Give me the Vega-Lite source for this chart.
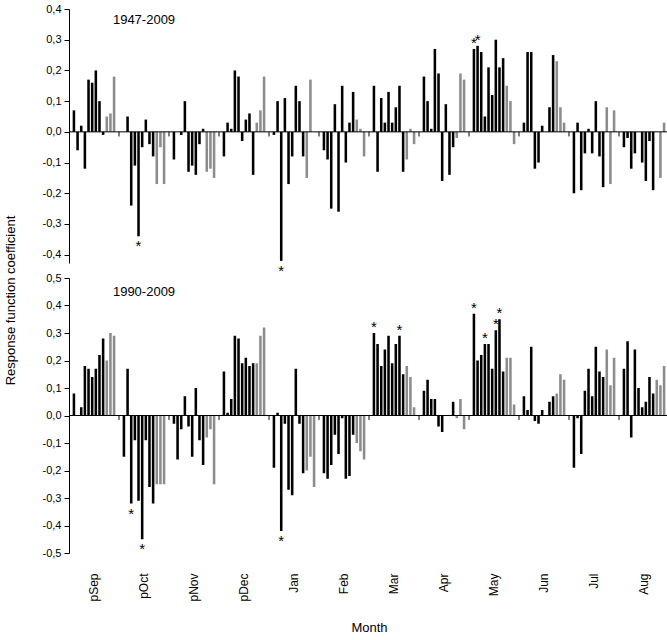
{
  "$schema": "https://vega.github.io/schema/vega-lite/v6.json",
  "padding": {"left": 4, "top": 3, "right": 0, "bottom": 4},
  "bounds": "flush",
  "spacing": 15,
  "config": {
    "view": {"stroke": null},
    "locale": {"number": {"decimal": ",", "thousands": ".", "grouping": [3], "currency": ["", " €"], "minus": "-"}},
    "axis": {"labelColor": "black", "titleColor": "black", "titleFontWeight": "normal", "domainColor": "black", "tickColor": "black", "grid": false, "labelOverlap": false}
  },
  "datasets": {
    "r1947": [
      {"month": "pSep", "var": 1, "kind": "T", "coef": 0.07}, {"month": "pSep", "var": 2, "kind": "T", "coef": -0.06}, {"month": "pSep", "var": 3, "kind": "T", "coef": 0.02}, {"month": "pSep", "var": 4, "kind": "T", "coef": -0.12}, {"month": "pSep", "var": 5, "kind": "T", "coef": 0.17}, {"month": "pSep", "var": 6, "kind": "T", "coef": 0.16}, {"month": "pSep", "var": 7, "kind": "T", "coef": 0.20}, {"month": "pSep", "var": 8, "kind": "T", "coef": 0.10}, {"month": "pSep", "var": 9, "kind": "T", "coef": -0.01}, {"month": "pSep", "var": 10, "kind": "P", "coef": 0.05}, {"month": "pSep", "var": 11, "kind": "P", "coef": 0.06}, {"month": "pSep", "var": 12, "kind": "P", "coef": 0.18},
      {"month": "pOct", "var": 1, "kind": "T", "coef": 0}, {"month": "pOct", "var": 2, "kind": "T", "coef": 0.05}, {"month": "pOct", "var": 3, "kind": "T", "coef": -0.24}, {"month": "pOct", "var": 4, "kind": "T", "coef": -0.11}, {"month": "pOct", "var": 5, "kind": "T", "coef": -0.34, "sig": 1}, {"month": "pOct", "var": 6, "kind": "T", "coef": -0.05}, {"month": "pOct", "var": 7, "kind": "T", "coef": 0.04}, {"month": "pOct", "var": 8, "kind": "T", "coef": -0.04}, {"month": "pOct", "var": 9, "kind": "T", "coef": -0.08}, {"month": "pOct", "var": 10, "kind": "P", "coef": -0.17}, {"month": "pOct", "var": 11, "kind": "P", "coef": -0.05}, {"month": "pOct", "var": 12, "kind": "P", "coef": -0.17},
      {"month": "pNov", "var": 1, "kind": "T", "coef": -0.09}, {"month": "pNov", "var": 2, "kind": "T", "coef": 0}, {"month": "pNov", "var": 3, "kind": "T", "coef": -0.01}, {"month": "pNov", "var": 4, "kind": "T", "coef": 0.10}, {"month": "pNov", "var": 5, "kind": "T", "coef": -0.13}, {"month": "pNov", "var": 6, "kind": "T", "coef": -0.11}, {"month": "pNov", "var": 7, "kind": "T", "coef": -0.14}, {"month": "pNov", "var": 8, "kind": "T", "coef": -0.04}, {"month": "pNov", "var": 9, "kind": "T", "coef": 0.01}, {"month": "pNov", "var": 10, "kind": "P", "coef": -0.13}, {"month": "pNov", "var": 11, "kind": "P", "coef": -0.12}, {"month": "pNov", "var": 12, "kind": "P", "coef": -0.15},
      {"month": "pDec", "var": 1, "kind": "T", "coef": -0.08}, {"month": "pDec", "var": 2, "kind": "T", "coef": 0.03}, {"month": "pDec", "var": 3, "kind": "T", "coef": 0.01}, {"month": "pDec", "var": 4, "kind": "T", "coef": 0.20}, {"month": "pDec", "var": 5, "kind": "T", "coef": 0.18}, {"month": "pDec", "var": 6, "kind": "T", "coef": -0.03}, {"month": "pDec", "var": 7, "kind": "T", "coef": 0.04}, {"month": "pDec", "var": 8, "kind": "T", "coef": 0.06}, {"month": "pDec", "var": 9, "kind": "T", "coef": -0.14}, {"month": "pDec", "var": 10, "kind": "P", "coef": 0.03}, {"month": "pDec", "var": 11, "kind": "P", "coef": 0.07}, {"month": "pDec", "var": 12, "kind": "P", "coef": 0.18},
      {"month": "Jan", "var": 1, "kind": "T", "coef": -0.01}, {"month": "Jan", "var": 2, "kind": "T", "coef": 0.10}, {"month": "Jan", "var": 3, "kind": "T", "coef": -0.42, "sig": 1}, {"month": "Jan", "var": 4, "kind": "T", "coef": 0.11}, {"month": "Jan", "var": 5, "kind": "T", "coef": -0.17}, {"month": "Jan", "var": 6, "kind": "T", "coef": -0.08}, {"month": "Jan", "var": 7, "kind": "T", "coef": 0.15}, {"month": "Jan", "var": 8, "kind": "T", "coef": 0.10}, {"month": "Jan", "var": 9, "kind": "T", "coef": -0.08}, {"month": "Jan", "var": 10, "kind": "P", "coef": -0.15}, {"month": "Jan", "var": 11, "kind": "P", "coef": 0.17}, {"month": "Jan", "var": 12, "kind": "P", "coef": 0},
      {"month": "Feb", "var": 1, "kind": "T", "coef": -0.06}, {"month": "Feb", "var": 2, "kind": "T", "coef": -0.09}, {"month": "Feb", "var": 3, "kind": "T", "coef": -0.25}, {"month": "Feb", "var": 4, "kind": "T", "coef": 0.09}, {"month": "Feb", "var": 5, "kind": "T", "coef": -0.26}, {"month": "Feb", "var": 6, "kind": "T", "coef": 0.15}, {"month": "Feb", "var": 7, "kind": "T", "coef": -0.10}, {"month": "Feb", "var": 8, "kind": "T", "coef": 0.03}, {"month": "Feb", "var": 9, "kind": "T", "coef": 0.13}, {"month": "Feb", "var": 10, "kind": "P", "coef": 0.04}, {"month": "Feb", "var": 11, "kind": "P", "coef": 0.01}, {"month": "Feb", "var": 12, "kind": "P", "coef": -0.08},
      {"month": "Mar", "var": 1, "kind": "T", "coef": 0.15}, {"month": "Mar", "var": 2, "kind": "T", "coef": -0.13}, {"month": "Mar", "var": 3, "kind": "T", "coef": 0.11}, {"month": "Mar", "var": 4, "kind": "T", "coef": 0.03}, {"month": "Mar", "var": 5, "kind": "T", "coef": 0.13}, {"month": "Mar", "var": 6, "kind": "T", "coef": 0.03}, {"month": "Mar", "var": 7, "kind": "T", "coef": 0.08}, {"month": "Mar", "var": 8, "kind": "T", "coef": 0.15}, {"month": "Mar", "var": 9, "kind": "T", "coef": -0.13}, {"month": "Mar", "var": 10, "kind": "P", "coef": -0.09}, {"month": "Mar", "var": 11, "kind": "P", "coef": 0.01}, {"month": "Mar", "var": 12, "kind": "P", "coef": -0.04},
      {"month": "Apr", "var": 1, "kind": "T", "coef": 0.18}, {"month": "Apr", "var": 2, "kind": "T", "coef": 0.10}, {"month": "Apr", "var": 3, "kind": "T", "coef": 0.01}, {"month": "Apr", "var": 4, "kind": "T", "coef": 0.27}, {"month": "Apr", "var": 5, "kind": "T", "coef": 0.19}, {"month": "Apr", "var": 6, "kind": "T", "coef": -0.16}, {"month": "Apr", "var": 7, "kind": "T", "coef": 0.09}, {"month": "Apr", "var": 8, "kind": "T", "coef": -0.14}, {"month": "Apr", "var": 9, "kind": "T", "coef": -0.05}, {"month": "Apr", "var": 10, "kind": "P", "coef": -0.02}, {"month": "Apr", "var": 11, "kind": "P", "coef": 0.19}, {"month": "Apr", "var": 12, "kind": "P", "coef": 0.17},
      {"month": "May", "var": 1, "kind": "T", "coef": 0.27, "sig": 1}, {"month": "May", "var": 2, "kind": "T", "coef": 0.28, "sig": 1}, {"month": "May", "var": 3, "kind": "T", "coef": 0.26}, {"month": "May", "var": 4, "kind": "T", "coef": 0.05}, {"month": "May", "var": 5, "kind": "T", "coef": 0.21}, {"month": "May", "var": 6, "kind": "T", "coef": 0.12}, {"month": "May", "var": 7, "kind": "T", "coef": 0.30}, {"month": "May", "var": 8, "kind": "T", "coef": 0.21}, {"month": "May", "var": 9, "kind": "T", "coef": 0.24}, {"month": "May", "var": 10, "kind": "P", "coef": 0.15}, {"month": "May", "var": 11, "kind": "P", "coef": 0.10}, {"month": "May", "var": 12, "kind": "P", "coef": -0.04},
      {"month": "Jun", "var": 1, "kind": "T", "coef": 0.03}, {"month": "Jun", "var": 2, "kind": "T", "coef": 0.26}, {"month": "Jun", "var": 3, "kind": "T", "coef": 0.26}, {"month": "Jun", "var": 4, "kind": "T", "coef": -0.12}, {"month": "Jun", "var": 5, "kind": "T", "coef": -0.10}, {"month": "Jun", "var": 6, "kind": "T", "coef": 0.02}, {"month": "Jun", "var": 7, "kind": "T", "coef": 0}, {"month": "Jun", "var": 8, "kind": "T", "coef": 0.08}, {"month": "Jun", "var": 9, "kind": "T", "coef": 0.25}, {"month": "Jun", "var": 10, "kind": "P", "coef": 0.23}, {"month": "Jun", "var": 11, "kind": "P", "coef": 0.08}, {"month": "Jun", "var": 12, "kind": "P", "coef": 0.03},
      {"month": "Jul", "var": 1, "kind": "T", "coef": -0.20}, {"month": "Jul", "var": 2, "kind": "T", "coef": 0.03}, {"month": "Jul", "var": 3, "kind": "T", "coef": -0.19}, {"month": "Jul", "var": 4, "kind": "T", "coef": -0.07}, {"month": "Jul", "var": 5, "kind": "T", "coef": 0.01}, {"month": "Jul", "var": 6, "kind": "T", "coef": -0.07}, {"month": "Jul", "var": 7, "kind": "T", "coef": 0.10}, {"month": "Jul", "var": 8, "kind": "T", "coef": -0.08}, {"month": "Jul", "var": 9, "kind": "T", "coef": -0.18}, {"month": "Jul", "var": 10, "kind": "P", "coef": 0.08}, {"month": "Jul", "var": 11, "kind": "P", "coef": -0.17}, {"month": "Jul", "var": 12, "kind": "P", "coef": 0.07},
      {"month": "Aug", "var": 1, "kind": "T", "coef": -0.05}, {"month": "Aug", "var": 2, "kind": "T", "coef": -0.02}, {"month": "Aug", "var": 3, "kind": "T", "coef": -0.12}, {"month": "Aug", "var": 4, "kind": "T", "coef": -0.07}, {"month": "Aug", "var": 5, "kind": "T", "coef": 0}, {"month": "Aug", "var": 6, "kind": "T", "coef": -0.10}, {"month": "Aug", "var": 7, "kind": "T", "coef": -0.16}, {"month": "Aug", "var": 8, "kind": "T", "coef": -0.03}, {"month": "Aug", "var": 9, "kind": "T", "coef": -0.19}, {"month": "Aug", "var": 10, "kind": "P", "coef": 0}, {"month": "Aug", "var": 11, "kind": "P", "coef": -0.15}, {"month": "Aug", "var": 12, "kind": "P", "coef": 0.03}
    ],
    "r1990": [
      {"month": "pSep", "var": 1, "kind": "T", "coef": 0.08}, {"month": "pSep", "var": 2, "kind": "T", "coef": 0}, {"month": "pSep", "var": 3, "kind": "T", "coef": 0.03}, {"month": "pSep", "var": 4, "kind": "T", "coef": 0.18}, {"month": "pSep", "var": 5, "kind": "T", "coef": 0.17}, {"month": "pSep", "var": 6, "kind": "T", "coef": 0.14}, {"month": "pSep", "var": 7, "kind": "T", "coef": 0.17}, {"month": "pSep", "var": 8, "kind": "T", "coef": 0.22}, {"month": "pSep", "var": 9, "kind": "T", "coef": 0.28}, {"month": "pSep", "var": 10, "kind": "P", "coef": 0.20}, {"month": "pSep", "var": 11, "kind": "P", "coef": 0.30}, {"month": "pSep", "var": 12, "kind": "P", "coef": 0.29},
      {"month": "pOct", "var": 1, "kind": "T", "coef": -0.15}, {"month": "pOct", "var": 2, "kind": "T", "coef": 0.17}, {"month": "pOct", "var": 3, "kind": "T", "coef": -0.32, "sig": 1}, {"month": "pOct", "var": 4, "kind": "T", "coef": -0.09}, {"month": "pOct", "var": 5, "kind": "T", "coef": -0.31}, {"month": "pOct", "var": 6, "kind": "T", "coef": -0.45, "sig": 1}, {"month": "pOct", "var": 7, "kind": "T", "coef": -0.09}, {"month": "pOct", "var": 8, "kind": "T", "coef": -0.26}, {"month": "pOct", "var": 9, "kind": "T", "coef": -0.32}, {"month": "pOct", "var": 10, "kind": "P", "coef": -0.25}, {"month": "pOct", "var": 11, "kind": "P", "coef": -0.25}, {"month": "pOct", "var": 12, "kind": "P", "coef": -0.25},
      {"month": "pNov", "var": 1, "kind": "T", "coef": -0.03}, {"month": "pNov", "var": 2, "kind": "T", "coef": -0.16}, {"month": "pNov", "var": 3, "kind": "T", "coef": -0.05}, {"month": "pNov", "var": 4, "kind": "T", "coef": 0.07}, {"month": "pNov", "var": 5, "kind": "T", "coef": -0.04}, {"month": "pNov", "var": 6, "kind": "T", "coef": -0.15}, {"month": "pNov", "var": 7, "kind": "T", "coef": 0.10}, {"month": "pNov", "var": 8, "kind": "T", "coef": -0.09}, {"month": "pNov", "var": 9, "kind": "T", "coef": -0.18}, {"month": "pNov", "var": 10, "kind": "P", "coef": -0.08}, {"month": "pNov", "var": 11, "kind": "P", "coef": -0.05}, {"month": "pNov", "var": 12, "kind": "P", "coef": -0.25},
      {"month": "pDec", "var": 1, "kind": "T", "coef": 0.16}, {"month": "pDec", "var": 2, "kind": "T", "coef": 0.01}, {"month": "pDec", "var": 3, "kind": "T", "coef": 0.06}, {"month": "pDec", "var": 4, "kind": "T", "coef": 0.29}, {"month": "pDec", "var": 5, "kind": "T", "coef": 0.28}, {"month": "pDec", "var": 6, "kind": "T", "coef": 0.19}, {"month": "pDec", "var": 7, "kind": "T", "coef": 0.21}, {"month": "pDec", "var": 8, "kind": "T", "coef": 0.18}, {"month": "pDec", "var": 9, "kind": "T", "coef": 0.19}, {"month": "pDec", "var": 10, "kind": "P", "coef": 0.19}, {"month": "pDec", "var": 11, "kind": "P", "coef": 0.29}, {"month": "pDec", "var": 12, "kind": "P", "coef": 0.32},
      {"month": "Jan", "var": 1, "kind": "T", "coef": -0.19}, {"month": "Jan", "var": 2, "kind": "T", "coef": 0.01}, {"month": "Jan", "var": 3, "kind": "T", "coef": -0.42, "sig": 1}, {"month": "Jan", "var": 4, "kind": "T", "coef": -0.03}, {"month": "Jan", "var": 5, "kind": "T", "coef": -0.27}, {"month": "Jan", "var": 6, "kind": "T", "coef": -0.29}, {"month": "Jan", "var": 7, "kind": "T", "coef": 0.17}, {"month": "Jan", "var": 8, "kind": "T", "coef": -0.03}, {"month": "Jan", "var": 9, "kind": "T", "coef": -0.21}, {"month": "Jan", "var": 10, "kind": "P", "coef": -0.20}, {"month": "Jan", "var": 11, "kind": "P", "coef": -0.15}, {"month": "Jan", "var": 12, "kind": "P", "coef": -0.26},
      {"month": "Feb", "var": 1, "kind": "T", "coef": -0.21}, {"month": "Feb", "var": 2, "kind": "T", "coef": -0.23}, {"month": "Feb", "var": 3, "kind": "T", "coef": -0.18}, {"month": "Feb", "var": 4, "kind": "T", "coef": -0.07}, {"month": "Feb", "var": 5, "kind": "T", "coef": -0.14}, {"month": "Feb", "var": 6, "kind": "T", "coef": -0.01}, {"month": "Feb", "var": 7, "kind": "T", "coef": -0.23}, {"month": "Feb", "var": 8, "kind": "T", "coef": -0.22}, {"month": "Feb", "var": 9, "kind": "T", "coef": -0.07}, {"month": "Feb", "var": 10, "kind": "P", "coef": -0.10}, {"month": "Feb", "var": 11, "kind": "P", "coef": -0.13}, {"month": "Feb", "var": 12, "kind": "P", "coef": -0.16},
      {"month": "Mar", "var": 1, "kind": "T", "coef": 0.30, "sig": 1}, {"month": "Mar", "var": 2, "kind": "T", "coef": 0.26}, {"month": "Mar", "var": 3, "kind": "T", "coef": 0.18}, {"month": "Mar", "var": 4, "kind": "T", "coef": 0.24}, {"month": "Mar", "var": 5, "kind": "T", "coef": 0.29}, {"month": "Mar", "var": 6, "kind": "T", "coef": 0.19}, {"month": "Mar", "var": 7, "kind": "T", "coef": 0.26}, {"month": "Mar", "var": 8, "kind": "T", "coef": 0.29, "sig": 1}, {"month": "Mar", "var": 9, "kind": "T", "coef": 0.15}, {"month": "Mar", "var": 10, "kind": "P", "coef": 0.18}, {"month": "Mar", "var": 11, "kind": "P", "coef": 0.14}, {"month": "Mar", "var": 12, "kind": "P", "coef": 0.03},
      {"month": "Apr", "var": 1, "kind": "T", "coef": 0.09}, {"month": "Apr", "var": 2, "kind": "T", "coef": 0.13}, {"month": "Apr", "var": 3, "kind": "T", "coef": 0.06}, {"month": "Apr", "var": 4, "kind": "T", "coef": 0.06}, {"month": "Apr", "var": 5, "kind": "T", "coef": -0.04}, {"month": "Apr", "var": 6, "kind": "T", "coef": -0.06}, {"month": "Apr", "var": 7, "kind": "T", "coef": 0}, {"month": "Apr", "var": 8, "kind": "T", "coef": 0}, {"month": "Apr", "var": 9, "kind": "T", "coef": 0.05}, {"month": "Apr", "var": 10, "kind": "P", "coef": -0.01}, {"month": "Apr", "var": 11, "kind": "P", "coef": 0.06}, {"month": "Apr", "var": 12, "kind": "P", "coef": -0.05},
      {"month": "May", "var": 1, "kind": "T", "coef": 0.37, "sig": 1}, {"month": "May", "var": 2, "kind": "T", "coef": 0.20}, {"month": "May", "var": 3, "kind": "T", "coef": 0.22}, {"month": "May", "var": 4, "kind": "T", "coef": 0.26, "sig": 1}, {"month": "May", "var": 5, "kind": "T", "coef": 0.26}, {"month": "May", "var": 6, "kind": "T", "coef": 0.17}, {"month": "May", "var": 7, "kind": "T", "coef": 0.31, "sig": 1}, {"month": "May", "var": 8, "kind": "T", "coef": 0.35, "sig": 1}, {"month": "May", "var": 9, "kind": "T", "coef": 0.16}, {"month": "May", "var": 10, "kind": "P", "coef": 0.21}, {"month": "May", "var": 11, "kind": "P", "coef": 0.21}, {"month": "May", "var": 12, "kind": "P", "coef": 0.04},
      {"month": "Jun", "var": 1, "kind": "T", "coef": 0.07}, {"month": "Jun", "var": 2, "kind": "T", "coef": 0.02}, {"month": "Jun", "var": 3, "kind": "T", "coef": 0.25}, {"month": "Jun", "var": 4, "kind": "T", "coef": -0.02}, {"month": "Jun", "var": 5, "kind": "T", "coef": -0.03}, {"month": "Jun", "var": 6, "kind": "T", "coef": 0.02}, {"month": "Jun", "var": 7, "kind": "T", "coef": 0}, {"month": "Jun", "var": 8, "kind": "T", "coef": 0.05}, {"month": "Jun", "var": 9, "kind": "T", "coef": 0.07}, {"month": "Jun", "var": 10, "kind": "P", "coef": 0.08}, {"month": "Jun", "var": 11, "kind": "P", "coef": 0.15}, {"month": "Jun", "var": 12, "kind": "P", "coef": 0.13},
      {"month": "Jul", "var": 1, "kind": "T", "coef": -0.19}, {"month": "Jul", "var": 2, "kind": "T", "coef": -0.01}, {"month": "Jul", "var": 3, "kind": "T", "coef": -0.14}, {"month": "Jul", "var": 4, "kind": "T", "coef": 0.09}, {"month": "Jul", "var": 5, "kind": "T", "coef": 0.17}, {"month": "Jul", "var": 6, "kind": "T", "coef": 0.07}, {"month": "Jul", "var": 7, "kind": "T", "coef": 0.25}, {"month": "Jul", "var": 8, "kind": "T", "coef": 0.16}, {"month": "Jul", "var": 9, "kind": "T", "coef": 0.14}, {"month": "Jul", "var": 10, "kind": "P", "coef": 0.24}, {"month": "Jul", "var": 11, "kind": "P", "coef": 0.11}, {"month": "Jul", "var": 12, "kind": "P", "coef": 0.21},
      {"month": "Aug", "var": 1, "kind": "T", "coef": 0.17}, {"month": "Aug", "var": 2, "kind": "T", "coef": 0.27}, {"month": "Aug", "var": 3, "kind": "T", "coef": -0.08}, {"month": "Aug", "var": 4, "kind": "T", "coef": 0.24}, {"month": "Aug", "var": 5, "kind": "T", "coef": 0.10}, {"month": "Aug", "var": 6, "kind": "T", "coef": 0.03}, {"month": "Aug", "var": 7, "kind": "T", "coef": 0.05}, {"month": "Aug", "var": 8, "kind": "T", "coef": 0.14}, {"month": "Aug", "var": 9, "kind": "T", "coef": 0.08}, {"month": "Aug", "var": 10, "kind": "P", "coef": 0.13}, {"month": "Aug", "var": 11, "kind": "P", "coef": 0.11}, {"month": "Aug", "var": 12, "kind": "P", "coef": 0.18}
    ]
  },
  "vconcat": [
    {
      "width": 600,
      "height": 254,
      "data": {"name": "r1947"},
      "layer": [
        {
          "mark": {"type": "bar"},
          "encoding": {
            "x": {"field": "month", "type": "nominal", "sort": ["pSep", "pOct", "pNov", "pDec", "Jan", "Feb", "Mar", "Apr", "May", "Jun", "Jul", "Aug"], "scale": {"paddingInner": 0, "paddingOuter": 0}, "axis": null},
            "xOffset": {"field": "var", "type": "ordinal", "scale": {"paddingInner": 0.3, "paddingOuter": 1.15}},
            "y": {
              "field": "coef", "type": "quantitative",
              "scale": {"domain": [-0.427, 0.4], "nice": false},
              "axis": {"values": [-0.4, -0.3, -0.2, -0.1, 0, 0.1, 0.2, 0.3, 0.4], "tickCount": 20, "format": ".1f", "labelOverlap": false, "tickSize": 5, "labelPadding": 3, "labelFont": "Liberation Sans", "labelFontSize": 11,
                       "title": "Response function coefficient", "titleFont": "Liberation Sans Narrow, Liberation Sans", "titleFontSize": 13, "titleX": -52, "titleY": 291, "titleAngle": -90}
            },
            "color": {"field": "kind", "type": "nominal", "scale": {"domain": ["T", "P"], "range": ["#000000", "#8c8c8c"]}, "legend": null}
          }
        },
        {"data": {"values": [{}]}, "mark": {"type": "rule", "color": "black", "strokeWidth": 1}, "encoding": {"y": {"datum": 0}}},
        {
          "transform": [{"aggregate": [], "groupby": ["month"]}],
          "mark": {"type": "rule", "color": "black", "strokeWidth": 1},
          "encoding": {
            "x": {"field": "month", "type": "nominal", "sort": ["pSep", "pOct", "pNov", "pDec", "Jan", "Feb", "Mar", "Apr", "May", "Jun", "Jul", "Aug"], "bandPosition": 1},
            "y": {"datum": 0}, "y2": {"datum": -0.015}
          }
        },
        {
          "transform": [{"filter": "datum.sig === 1 && datum.coef > 0"}],
          "mark": {"type": "text", "text": "*", "baseline": "alphabetic", "dy": -1, "fontSize": 15, "font": "Liberation Sans", "color": "black"},
          "encoding": {
            "x": {"field": "month", "type": "nominal", "sort": ["pSep", "pOct", "pNov", "pDec", "Jan", "Feb", "Mar", "Apr", "May", "Jun", "Jul", "Aug"]},
            "xOffset": {"field": "var", "type": "ordinal"},
            "y": {"field": "coef", "type": "quantitative"}
          }
        },
        {
          "transform": [{"filter": "datum.sig === 1 && datum.coef < 0"}],
          "mark": {"type": "text", "text": "*", "baseline": "alphabetic", "dy": 15, "fontSize": 15, "font": "Liberation Sans", "color": "black"},
          "encoding": {
            "x": {"field": "month", "type": "nominal", "sort": ["pSep", "pOct", "pNov", "pDec", "Jan", "Feb", "Mar", "Apr", "May", "Jun", "Jul", "Aug"]},
            "xOffset": {"field": "var", "type": "ordinal"},
            "y": {"field": "coef", "type": "quantitative"}
          }
        },
        {
          "data": {"values": [{}]},
          "mark": {"type": "text", "text": "1947-2009", "fontSize": 13, "font": "Liberation Sans Narrow, Liberation Sans", "color": "black", "baseline": "middle"},
          "encoding": {"x": {"datum": "pOct", "type": "nominal"}, "y": {"datum": 0.365}}
        }
      ]
    },
    {
      "width": 600,
      "height": 275,
      "data": {"name": "r1990"},
      "layer": [
        {
          "mark": {"type": "bar"},
          "encoding": {
            "x": {"field": "month", "type": "nominal", "sort": ["pSep", "pOct", "pNov", "pDec", "Jan", "Feb", "Mar", "Apr", "May", "Jun", "Jul", "Aug"], "scale": {"paddingInner": 0, "paddingOuter": 0},
                  "axis": {"title": "Month", "labelAngle": -90, "domain": false, "ticks": false, "tickSize": 0, "labelPadding": 20, "labelFont": "Liberation Sans", "labelFontSize": 12,
                           "titleFont": "Liberation Sans Narrow, Liberation Sans", "titleFontSize": 13, "titlePadding": 20}},
            "xOffset": {"field": "var", "type": "ordinal", "scale": {"paddingInner": 0.3, "paddingOuter": 1.15}},
            "y": {
              "field": "coef", "type": "quantitative",
              "scale": {"domain": [-0.5, 0.5], "nice": false},
              "axis": {"values": [-0.5, -0.4, -0.3, -0.2, -0.1, 0, 0.1, 0.2, 0.3, 0.4, 0.5], "tickCount": 20, "format": ".1f", "labelOverlap": false, "tickSize": 5, "labelPadding": 3, "labelFont": "Liberation Sans", "labelFontSize": 11, "title": null}
            },
            "color": {"field": "kind", "type": "nominal", "scale": {"domain": ["T", "P"], "range": ["#000000", "#8c8c8c"]}, "legend": null}
          }
        },
        {"data": {"values": [{}]}, "mark": {"type": "rule", "color": "black", "strokeWidth": 1}, "encoding": {"y": {"datum": 0}}},
        {
          "transform": [{"aggregate": [], "groupby": ["month"]}],
          "mark": {"type": "rule", "color": "black", "strokeWidth": 1},
          "encoding": {
            "x": {"field": "month", "type": "nominal", "sort": ["pSep", "pOct", "pNov", "pDec", "Jan", "Feb", "Mar", "Apr", "May", "Jun", "Jul", "Aug"], "bandPosition": 1},
            "y": {"datum": 0}, "y2": {"datum": -0.016}
          }
        },
        {
          "transform": [{"filter": "datum.sig === 1 && datum.coef > 0"}],
          "mark": {"type": "text", "text": "*", "baseline": "alphabetic", "dy": -1, "fontSize": 15, "font": "Liberation Sans", "color": "black"},
          "encoding": {
            "x": {"field": "month", "type": "nominal", "sort": ["pSep", "pOct", "pNov", "pDec", "Jan", "Feb", "Mar", "Apr", "May", "Jun", "Jul", "Aug"]},
            "xOffset": {"field": "var", "type": "ordinal"},
            "y": {"field": "coef", "type": "quantitative"}
          }
        },
        {
          "transform": [{"filter": "datum.sig === 1 && datum.coef < 0"}],
          "mark": {"type": "text", "text": "*", "baseline": "alphabetic", "dy": 15, "fontSize": 15, "font": "Liberation Sans", "color": "black"},
          "encoding": {
            "x": {"field": "month", "type": "nominal", "sort": ["pSep", "pOct", "pNov", "pDec", "Jan", "Feb", "Mar", "Apr", "May", "Jun", "Jul", "Aug"]},
            "xOffset": {"field": "var", "type": "ordinal"},
            "y": {"field": "coef", "type": "quantitative"}
          }
        },
        {
          "data": {"values": [{}]},
          "mark": {"type": "text", "text": "1990-2009", "fontSize": 13, "font": "Liberation Sans Narrow, Liberation Sans", "color": "black", "baseline": "middle"},
          "encoding": {"x": {"datum": "pOct", "type": "nominal"}, "y": {"datum": 0.45}}
        }
      ]
    }
  ]
}
